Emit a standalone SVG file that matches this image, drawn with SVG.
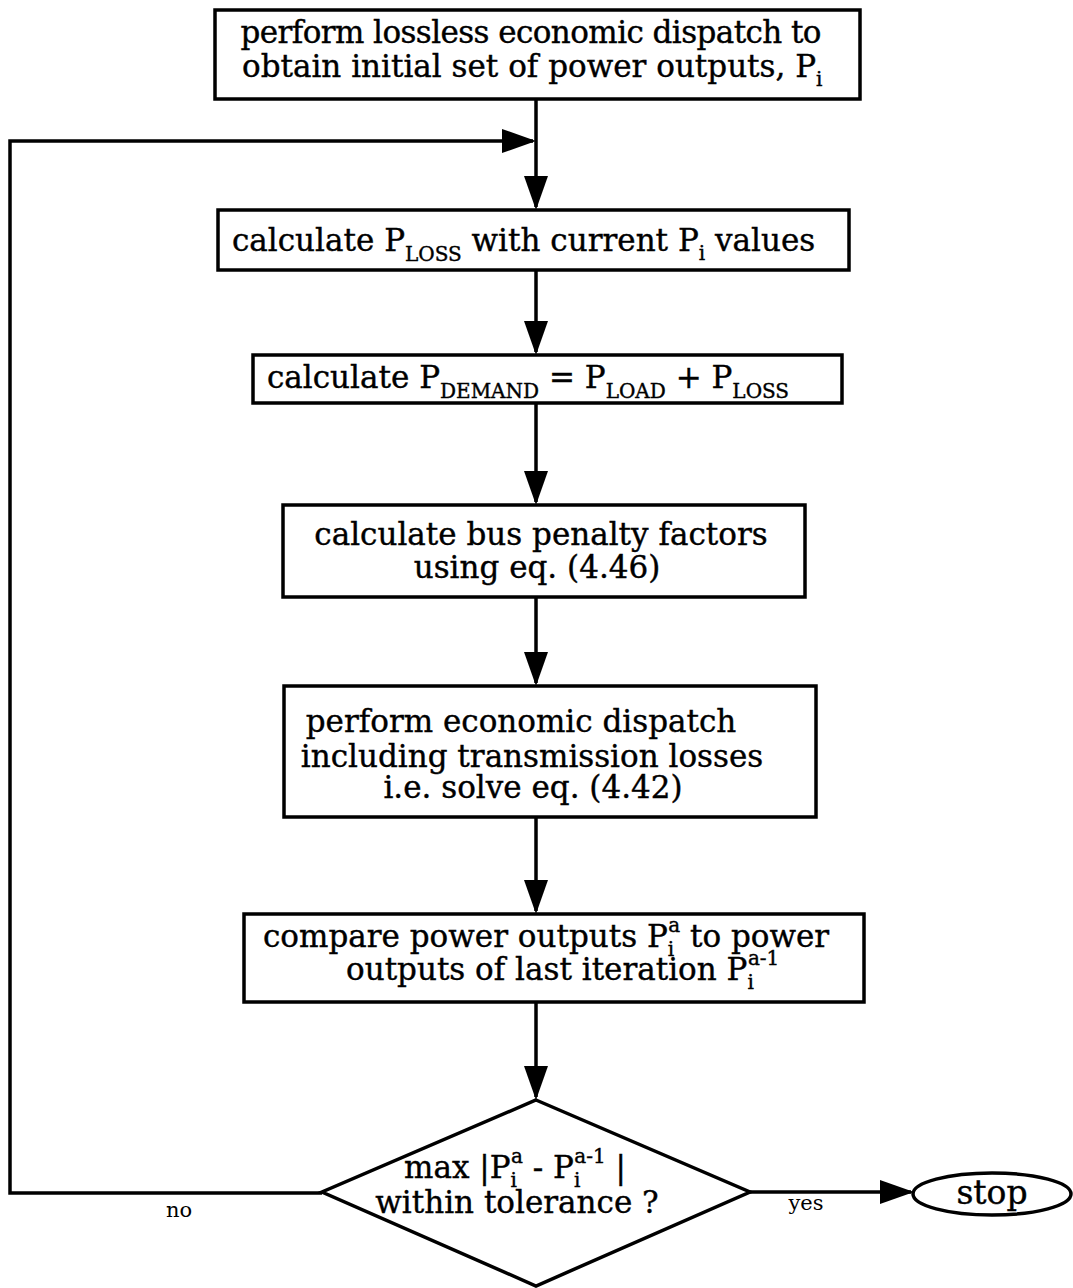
<svg xmlns="http://www.w3.org/2000/svg" width="1073" height="1288" viewBox="0 0 1073 1288">
<defs>
<style>
.box{fill:#fff;stroke:#000;stroke-width:3.5}
.t{font-family:"DejaVu Serif","Liberation Serif",serif;font-size:31px;fill:#000;stroke:#000;stroke-width:0.4}
.s{font-size:20px}
.lbl{font-family:"DejaVu Serif","Liberation Serif",serif;font-size:21px;fill:#000}
.c{fill:none;stroke:#000;stroke-width:3.5}
</style>
<marker id="ah" markerUnits="userSpaceOnUse" markerWidth="34" markerHeight="26" viewBox="0 0 34 26" refX="31" refY="13" orient="auto">
<path d="M0,1 L34,13 L0,25 z" fill="#000"/>
</marker>
</defs>
<rect width="1073" height="1288" fill="#fff"/>
<g id="connectors">
<line class="c" x1="536" y1="99" x2="536" y2="207" marker-end="url(#ah)"/>
<path class="c" d="M322,1193 H10 V141 H533" marker-end="url(#ah)"/>
<line class="c" x1="536" y1="270" x2="536" y2="352" marker-end="url(#ah)"/>
<line class="c" x1="536" y1="403" x2="536" y2="502" marker-end="url(#ah)"/>
<line class="c" x1="536" y1="597" x2="536" y2="683" marker-end="url(#ah)"/>
<line class="c" x1="536" y1="817" x2="536" y2="911" marker-end="url(#ah)"/>
<line class="c" x1="536" y1="1002" x2="536" y2="1097" marker-end="url(#ah)"/>
<line class="c" x1="750" y1="1192" x2="911" y2="1192" marker-end="url(#ah)"/>
<text class="lbl" x="179" y="1217" text-anchor="middle">no</text>
<text class="lbl" x="806" y="1210" text-anchor="middle">yes</text>
</g>
<g id="n1">
<rect class="box" x="215" y="10" width="645" height="89"/>
<text class="t" x="531" y="43" text-anchor="middle" textLength="581" lengthAdjust="spacing">perform lossless economic dispatch to</text>
<text class="t" x="242" y="77">obtain initial set of power outputs, P<tspan class="s" dy="9">i</tspan></text>
</g>
<g id="n2">
<rect class="box" x="218" y="210" width="631" height="60"/>
<text class="t" x="232" y="251">calculate P<tspan class="s" dy="10">LOSS</tspan><tspan dy="-10"> with current P</tspan><tspan class="s" dy="9">i</tspan><tspan dy="-9"> values</tspan></text>
</g>
<g id="n3">
<rect class="box" x="253" y="355" width="589" height="48"/>
<text class="t" x="267" y="388">calculate P<tspan class="s" dy="10">DEMAND</tspan><tspan dy="-10"> = P</tspan><tspan class="s" dy="10">LOAD</tspan><tspan dy="-10"> + P</tspan><tspan class="s" dy="10">LOSS</tspan></text>
</g>
<g id="n4">
<rect class="box" x="283" y="505" width="522" height="92"/>
<text class="t" x="541" y="545" text-anchor="middle">calculate bus penalty factors</text>
<text class="t" x="537" y="578" text-anchor="middle">using eq. (4.46)</text>
</g>
<g id="n5">
<rect class="box" x="284" y="686" width="532" height="131"/>
<text class="t" x="521" y="732" text-anchor="middle">perform economic dispatch</text>
<text class="t" x="532" y="767" text-anchor="middle">including transmission losses</text>
<text class="t" x="533" y="798" text-anchor="middle">i.e. solve eq. (4.42)</text>
</g>
<g id="n6">
<rect class="box" x="244" y="914" width="620" height="88"/>
<text class="t" x="263" y="947">compare power outputs P<tspan class="s" dy="9">i</tspan><tspan class="s" dx="-6" dy="-24">a</tspan><tspan dy="15"> to power</tspan></text>
<text class="t" x="346" y="980">outputs of last iteration P<tspan class="s" dy="9">i</tspan><tspan class="s" dx="-6" dy="-24">a-1</tspan></text>
</g>
<g id="n7">
<polygon class="box" points="536,1100 750,1192 536,1286 322,1192"/>
<text class="t" x="404" y="1178">max |P<tspan class="s" dy="9">i</tspan><tspan class="s" dx="-6" dy="-24">a</tspan><tspan dy="15"> - P</tspan><tspan class="s" dy="9">i</tspan><tspan class="s" dx="-6" dy="-24">a-1</tspan><tspan dy="15"> |</tspan></text>
<text class="t" x="517" y="1213" text-anchor="middle">within tolerance ?</text>
</g>
<g id="n8">
<ellipse class="box" cx="992" cy="1194" rx="79" ry="21"/>
<text class="t" x="992" y="1204" text-anchor="middle" style="font-size:33px">stop</text>
</g>
</svg>
